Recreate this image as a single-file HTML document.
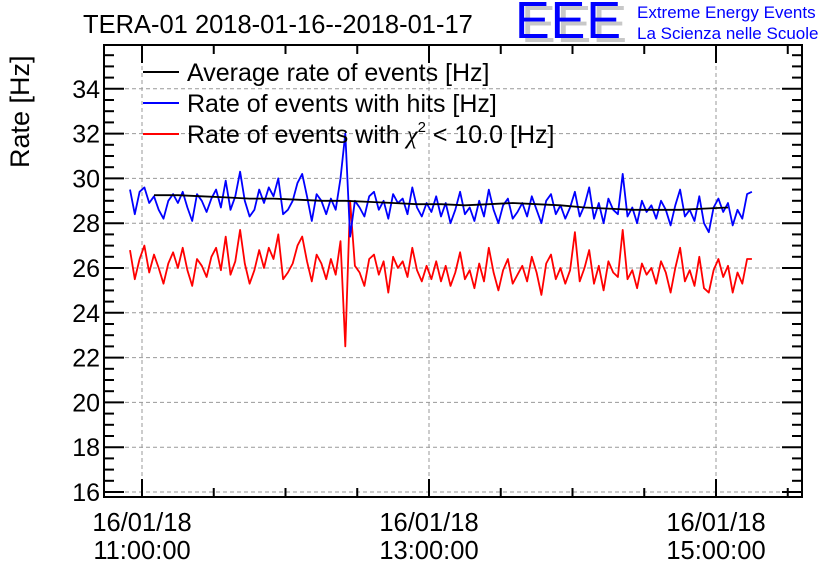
<!DOCTYPE html>
<html><head><meta charset="utf-8"><style>
html,body{margin:0;padding:0;background:#fff;}
svg{display:block;font-family:"Liberation Sans",sans-serif;}
</style></head><body>
<svg id="chart" width="836" height="572" viewBox="0 0 836 572">
<text x="83" y="33" font-size="25.5">TERA-01 2018-01-16--2018-01-17</text>
<g>
<text x="521" y="42" font-size="52" fill="#c8c8c8" letter-spacing="1">EEE</text>
<text x="515" y="38" font-size="52" fill="#0000ff" letter-spacing="1">EEE</text>
<text x="637" y="18" font-size="17" fill="#0000ff">Extreme Energy Events</text>
<text x="637" y="39" font-size="17" fill="#0000ff">La Scienza nelle Scuole</text>
</g>
<text transform="translate(29,168) rotate(-90)" font-size="27">Rate [Hz]</text>
<g id="grid"></g>
<g id="series"></g>
<g id="axes"></g>
<g font-size="25">
<line x1="143" y1="72" x2="179" y2="72" stroke="#000" stroke-width="2"/>
<text x="187" y="81">Average rate of events [Hz]</text>
<line x1="143" y1="103" x2="179" y2="103" stroke="#0000ff" stroke-width="2"/>
<text x="187" y="112">Rate of events with hits [Hz]</text>
<line x1="143" y1="134" x2="179" y2="134" stroke="#ff0000" stroke-width="2"/>
<text x="187" y="143">Rate of events with <tspan font-family="'Liberation Serif',serif" font-style="italic">χ</tspan><tspan font-size="15" dy="-11">2</tspan><tspan dy="11"> &lt; 10.0 [Hz]</tspan></text>
</g>
</svg>
<script>
const blueRate=[29.5,28.4,29.4,29.6,28.9,29.2,28.6,28.2,29.0,29.3,28.9,29.4,28.7,28.1,29.3,29.0,28.5,29.1,
29.5,28.7,29.9,28.6,29.2,30.3,29.0,28.3,28.6,29.5,28.9,29.6,29.2,30.0,28.4,
28.6,29.0,29.8,30.2,29.2,28.1,29.3,29.0,28.4,29.1,28.6,30.0,
32.0,27.4,
29.0,28.7,28.3,29.2,29.4,28.6,29.0,28.2,29.3,28.9,29.1,28.4,29.6,28.7,28.3,28.9,
28.5,29.2,28.3,28.9,28.0,28.6,29.4,28.4,28.7,28.1,29.0,28.3,29.5,28.6,28.0,28.8,29.1,28.2,28.5,28.9,28.3,29.2,28.6,28.0,29.0,29.3,28.4,28.8,28.2,28.7,
29.4,28.3,28.8,29.6,28.2,28.9,28.0,29.1,28.6,28.4,30.2,28.3,28.7,28.0,29.0,28.5,28.8,28.2,29.0,28.6,27.9,28.8,29.5,28.3,28.6,28.1,29.2,28.0,27.6,28.7,29.1,28.5,28.9,27.9,28.6,28.2,29.3,29.4];
const redRate=[26.8,25.5,26.4,27.0,25.8,26.6,26.0,25.3,26.2,26.7,26.0,26.9,25.9,25.2,26.4,26.1,25.6,26.5,
26.9,25.9,27.4,25.7,26.3,27.7,26.2,25.3,25.9,26.8,26.0,26.9,26.4,27.5,25.5,
25.8,26.2,27.0,27.4,26.3,25.4,26.6,26.2,25.5,26.4,25.7,27.2,
22.5,29.0,
26.1,25.8,25.2,26.4,26.6,25.7,26.3,24.9,26.5,26.0,26.3,25.6,26.9,25.9,25.4,26.1,
25.5,26.3,25.4,26.1,25.2,25.8,26.7,25.5,25.9,25.1,26.2,25.4,26.9,25.8,25.0,25.9,26.4,25.3,25.7,26.1,25.4,26.5,25.8,24.8,26.2,26.6,25.5,26.0,25.3,25.9,
27.6,25.4,26.0,26.8,25.3,26.1,25.0,26.3,25.8,25.6,27.7,25.5,25.9,25.1,26.2,25.7,26.0,25.3,26.3,25.8,24.9,26.0,26.9,25.4,25.9,25.2,26.5,25.1,24.9,25.9,26.4,25.6,26.1,24.9,25.8,25.3,26.4,26.4];
const avgRate=[29.25,29.25,29.2,29.15,29.1,29.1,29.05,29.0,29.0,28.95,28.9,28.85,28.85,28.8,28.85,28.9,28.85,28.8,28.7,28.65,28.6,28.6,28.6,28.65,28.7];
const rateStartMin=-5, rateStepMin=2;   // minutes relative to 11:00
const avgStartMin=5, avgStepMin=10;
const yTicks=[16,18,20,22,24,26,28,30,32,34];
const xTickLabels=[["16/01/18","11:00:00"],["16/01/18","13:00:00"],["16/01/18","15:00:00"]];
const xTickHours=[0,2,4];

const L=104,R=802,T=45,B=497;
const X=m=>142+m*(287/120);
const Y=v=>492-(v-16)*22.4;
const NS="http://www.w3.org/2000/svg";
function mk(tag,attrs,parent){const e=document.createElementNS(NS,tag);for(const k in attrs)e.setAttribute(k,attrs[k]);parent.appendChild(e);return e;}
const grid=document.getElementById('grid'),series=document.getElementById('series'),axes=document.getElementById('axes');

yTicks.forEach(v=>{const g=mk('line',{x1:L,x2:R,y1:Y(v),y2:Y(v),stroke:'#999','stroke-dasharray':'4,3','stroke-width':1},grid);

});
xTickHours.forEach(h=>{const g=mk('line',{x1:X(h*60),x2:X(h*60),y1:T,y2:B,stroke:'#999','stroke-dasharray':'4,3','stroke-width':1},grid);

});

function path(arr,start,step,color,name){
 const d=arr.map((v,i)=>(i?'L':'M')+X(start+i*step).toFixed(1)+','+Y(v).toFixed(1)).join('');
 const p=mk('path',{d:d,fill:'none',stroke:color,'stroke-width':1.8,'stroke-linejoin':'round'},series);
 
 
}
path(redRate,rateStartMin,rateStepMin,'#ff0000','red-rate-line');
path(blueRate,rateStartMin,rateStepMin,'#0000ff','blue-rate-line');
path(avgRate,avgStartMin,avgStepMin,'#000000','average-rate-line');

const fr=mk('rect',{x:L,y:T,width:R-L,height:B-T,fill:'none',stroke:'#000','stroke-width':2},axes);


for(let v=16;v<=36.01;v+=0.5){const maj=Math.abs(v-Math.round(v/2)*2)<0.01;const len=maj?20:10;const y=Y(v);if(y<T||y>B)continue;
 mk('line',{x1:L,x2:L+len,y1:y,y2:y,stroke:'#000','stroke-width':2},axes);
 mk('line',{x1:R,x2:R-len,y1:y,y2:y,stroke:'#000','stroke-width':2},axes);}
yTicks.forEach(v=>{const t=mk('text',{x:L-4,y:Y(v)+9,'font-size':25,'text-anchor':'end'},axes);t.textContent=v;

});
for(let m=-30;m<=300;m+=30){const x=X(m);if(x<L||x>R)continue;const maj=m%120===0;const len=maj?18:9;
 mk('line',{x1:x,x2:x,y1:B,y2:B-len,stroke:'#000','stroke-width':2},axes);
 mk('line',{x1:x,x2:x,y1:T,y2:T+len,stroke:'#000','stroke-width':2},axes);}
xTickHours.forEach((h,i)=>{const t=mk('text',{x:X(h*60),y:531,'font-size':25.5,'text-anchor':'middle'},axes);


mk('tspan',{x:X(h*60),dy:0},t).textContent=xTickLabels[i][0];
mk('tspan',{x:X(h*60),dy:28},t).textContent=xTickLabels[i][1];});
</script>
</body></html>
